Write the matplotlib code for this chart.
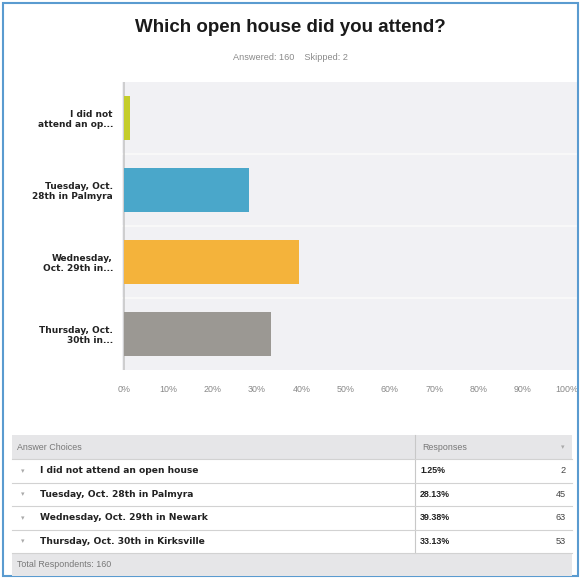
import matplotlib
matplotlib.use("Agg")
import matplotlib.pyplot as plt
from matplotlib.patches import Rectangle

# Survey data
choices_short = ["I did not\nattend an op...", "Tuesday, Oct.\n28th in Palmyra",
                 "Wednesday,\nOct. 29th in...", "Thursday, Oct.\n30th in..."]
choices_full = ["I did not attend an open house", "Tuesday, Oct. 28th in Palmyra",
                "Wednesday, Oct. 29th in Newark", "Thursday, Oct. 30th in Kirksville"]
percents = [1.25, 28.13, 39.38, 33.13]
counts = [2, 45, 63, 53]
answered = 160
skipped = 2
total_respondents = 160
bar_colors = ["#c4cd2b", "#4aa7ca", "#f4b33b", "#9b9893"]
tick_values = list(range(0, 101, 10))

W, H = 581, 579
fig = plt.figure(figsize=(W / 100, H / 100), dpi=100)
fig.patch.set_facecolor("white")


def fx(px):
    return px / W


def fy(py):
    return 1 - py / H


# Outer frame
fig.patches.append(Rectangle((fx(3), fy(576)), fx(575), (573) / H, transform=fig.transFigure,
                             fill=False, edgecolor="#5a9bd0", linewidth=1.5))

# Title and subtitle
fig.text(0.5, fy(28), "Which open house did you attend?", ha="center", va="center",
         fontsize=13.5, fontweight="bold", color="#1a1a1a", family="Liberation Sans")
fig.text(0.5, fy(57), f"Answered: {answered}    Skipped: {skipped}", ha="center", va="center",
         fontsize=6.6, color="#8a8a8a", family="Liberation Sans")

# Bar chart
ax_left, ax_right, ax_top, ax_bottom = 122, 578, 82, 370
ax = fig.add_axes([fx(ax_left), fy(ax_bottom), fx(ax_right - ax_left), (ax_bottom - ax_top) / H])
ax.set_facecolor("#f1f1f4")
ypos = list(range(len(choices_short)))
ax.barh(ypos, percents, height=0.6, color=bar_colors, edgecolor="none", zorder=3)
ax.set_ylim(3.5, -0.5)
ax.set_xlim(-0.5, 102.5)
for y in [0.5, 1.5, 2.5]:
    ax.axhline(y, color="#fafafa", linewidth=1.2, zorder=1)
ax.axvline(0, color="#c8c8c8", linewidth=1.2, zorder=2)
ax.set_xticks(tick_values)
ax.set_xticklabels([f"{v}%" for v in tick_values], fontsize=6.4, color="#888888",
                   family="Liberation Sans")
ax.set_yticks(ypos)
ax.set_yticklabels(choices_short, fontsize=6.5, fontweight="bold", color="#222222",
                   family="DejaVu Sans", linespacing=1.15)
ax.tick_params(axis="both", length=0)
ax.tick_params(axis="x", pad=11)
ax.tick_params(axis="y", pad=6.5)
for s in ["top", "right", "bottom", "left"]:
    ax.spines[s].set_visible(False)

# Response table
tbl_left, tbl_right, div_x = 12, 572, 415
header_top, header_bot = 435, 459
row_h = 23.5
rows_top = header_bot
footer_top = rows_top + row_h * len(choices_full)
footer_bot = footer_top + 23


def add_rect(x0, y0, x1, y1, fc, ec="none", lw=0.0):
    fig.patches.append(Rectangle((fx(x0), fy(y1)), fx(x1 - x0), (y1 - y0) / H,
                                 transform=fig.transFigure, facecolor=fc,
                                 edgecolor=ec, linewidth=lw))


add_rect(tbl_left, header_top, tbl_right, header_bot, "#e6e6e8")
add_rect(tbl_left, footer_top, tbl_right, footer_bot, "#e6e6e8")
fig.lines.append(plt.Line2D([fx(div_x), fx(div_x)], [fy(header_top), fy(footer_top)],
                            transform=fig.transFigure, color="#c8c8c8", linewidth=0.8))
for i in range(len(choices_full) + 1):
    yy = rows_top + i * row_h
    fig.lines.append(plt.Line2D([fx(tbl_left), fx(tbl_right)], [fy(yy), fy(yy)],
                                transform=fig.transFigure, color="#d2d2d2", linewidth=0.8))

mid_h = (header_top + header_bot) / 2
fig.text(fx(17), fy(mid_h), "Answer Choices", ha="left", va="center", fontsize=6.4,
         color="#777777", family="Liberation Sans")
fig.text(fx(422), fy(mid_h), "Responses", ha="left", va="center", fontsize=6.4,
         color="#777777", family="Liberation Sans")
fig.text(fx(563), fy(mid_h), "▾", ha="center", va="center", fontsize=5, color="#aaaaaa")

for i, (name, pct, cnt) in enumerate(zip(choices_full, percents, counts)):
    yc = rows_top + (i + 0.5) * row_h
    fig.text(fx(23), fy(yc), "▾", ha="center", va="center", fontsize=5, color="#aaaaaa")
    fig.text(fx(40), fy(yc), name, ha="left", va="center", fontsize=6.6, fontweight="bold",
             color="#222222", family="DejaVu Sans")
    fig.text(fx(420), fy(yc), f"{pct:.2f}%", ha="left", va="center", fontsize=6.4,
             fontweight="bold", color="#222222", family="Liberation Sans")
    fig.text(fx(566), fy(yc), f"{cnt}", ha="right", va="center", fontsize=6.6,
             color="#444444", family="Liberation Sans")

fig.text(fx(17), fy((footer_top + footer_bot) / 2), f"Total Respondents: {total_respondents}",
         ha="left", va="center", fontsize=6.4, color="#777777", family="Liberation Sans")

fig.savefig("out.png", dpi=100, facecolor="white")
